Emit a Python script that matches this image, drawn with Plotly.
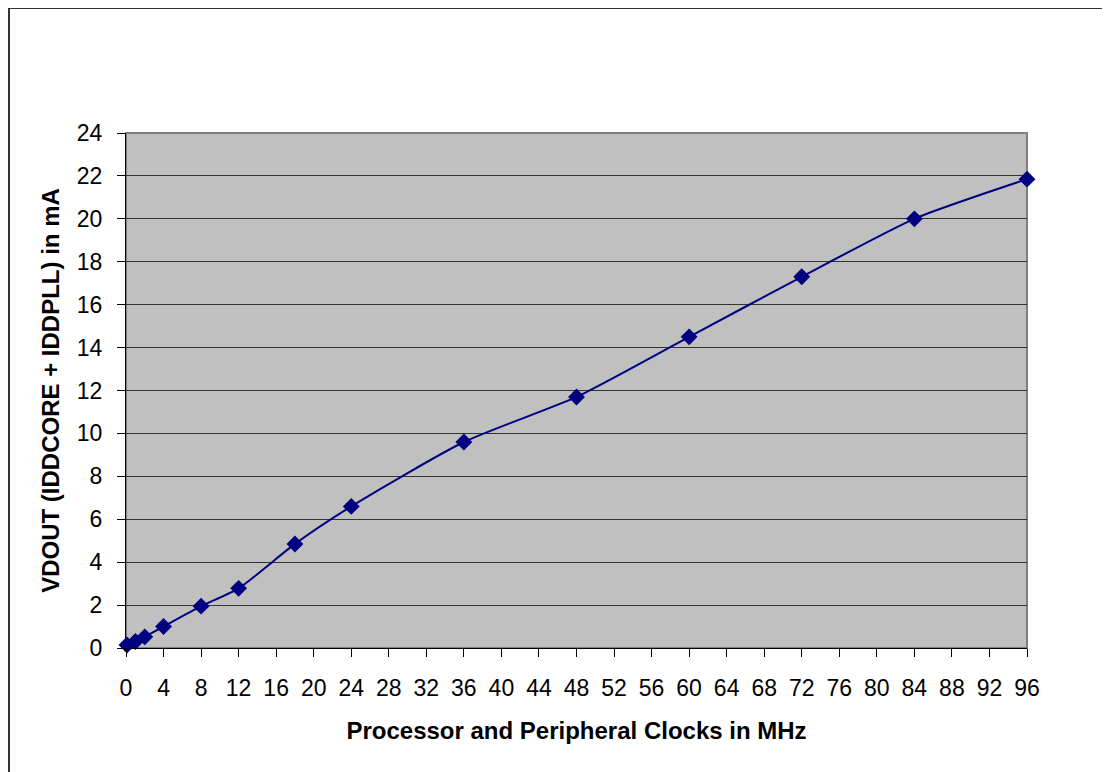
import plotly.graph_objects as go

freq_mhz = [0.1, 1, 2, 4, 8, 12, 18, 24, 36, 48, 60, 72, 84, 96]
current_ma = [0.14, 0.3, 0.52, 1.0, 1.95, 2.78, 4.85, 6.6, 9.6, 11.7, 14.5, 17.3, 20.0, 21.85]
x_ticks = list(range(0, 97, 4))
y_ticks = list(range(0, 25, 2))

# page has an 8px body margin; figure coordinates = page coordinates - 8
OFF = 8
W, H = 1110 - OFF, 772 - OFF
L, R, T, B = 126 - OFF, 1027 - OFF, 133 - OFF, 648 - OFF
pw, ph = R - L, B - T

def px(xp):
    return (xp - L) / pw

def py(yp):
    return (B - yp) / ph

fig = go.Figure()
fig.add_trace(go.Scatter(
    x=freq_mhz, y=current_ma, mode="lines+markers",
    line=dict(color="#000080", width=2, shape="spline", smoothing=0.6),
    marker=dict(symbol="diamond", size=13, color="#000080"),
    showlegend=False, cliponaxis=False,
))

font_family = "Liberation Sans, Arial, sans-serif"
fig.update_layout(
    width=W, height=H,
    margin=dict(l=L, r=W - R, t=T, b=H - B),
    paper_bgcolor="white", plot_bgcolor="#C0C0C0",
    font=dict(family=font_family, color="black", size=23),
    xaxis=dict(
        range=[0, 96], tickvals=x_ticks, ticktext=[str(v) for v in x_ticks],
        showgrid=False, zeroline=False, showline=True, linecolor="#000000", linewidth=1,
        ticks="outside", ticklen=8, tickcolor="#000000",
        ticklabelstandoff=11,
        title=dict(text="<b>Processor and Peripheral Clocks in MHz</b>", font=dict(size=24), standoff=22),
    ),
    yaxis=dict(
        range=[0, 24], tickvals=y_ticks, ticktext=[str(v) for v in y_ticks],
        showgrid=True, gridcolor="#333333", gridwidth=1, zeroline=False,
        showline=True, linecolor="#000000", linewidth=1,
        ticks="outside", ticklen=8, tickcolor="#000000",
        ticklabelstandoff=10,
        title=dict(text="<b>VDOUT (IDDCORE + IDDPLL) in mA</b>", font=dict(size=24), standoff=10),
    ),
    shapes=[
        dict(type="rect", xref="paper", yref="paper", x0=0, x1=1, y0=0, y1=1,
             line=dict(color="#808080", width=2), layer="below"),
        dict(type="rect", xref="paper", yref="paper",
             x0=px(1), x1=px(1097), y0=py(790), y1=py(0),
             line=dict(color="#333333", width=2)),
    ],
)

fig.write_html("out.html")
